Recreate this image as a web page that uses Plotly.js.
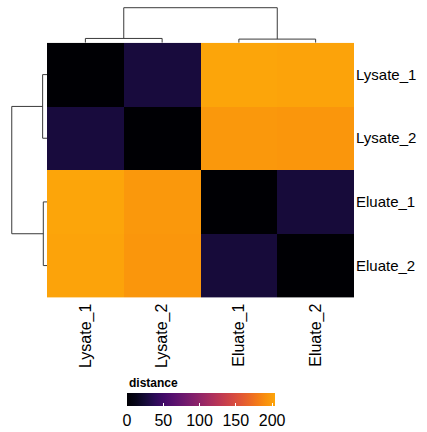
<!DOCTYPE html>
<html>
<head>
<meta charset="utf-8">
<script src="https://cdn.plot.ly/plotly-3.0.1.min.js"></script>
<style>html,body{margin:0;padding:0;background:#fff;}#chart{width:427px;height:432px;}</style>
</head>
<body>
<div id="chart"></div>
<script>
// ---- data ----
const samples = ['Lysate_1', 'Lysate_2', 'Eluate_1', 'Eluate_2'];
const distLysate1 = [0, 27, 204, 203];
const distLysate2 = [27, 0, 196, 195];
const distEluate1 = [204, 196, 0, 26];
const distEluate2 = [203, 195, 26, 0];
// dendrogram merge heights: [Lysate pair, Eluate pair, root]
const mergeHeights = [46, 39, 372];
const colorTicks = [0, 50, 100, 150, 200];
const legendTitle = 'distance';

const z = [distLysate1, distLysate2, distEluate1, distEluate2];
const idx = samples.map((_, i) => i);

// inferno (0 .. 0.8)
const inferno = [
  [0.0, '#000004'], [0.0625, '#07051b'], [0.125, '#160b39'], [0.1875, '#2b0b57'],
  [0.25, '#420a68'], [0.3125, '#57106e'], [0.375, '#6a176e'], [0.4375, '#7f1e6c'],
  [0.5, '#932667'], [0.5625, '#a82e5f'], [0.625, '#bc3754'], [0.6875, '#cd4347'],
  [0.75, '#dd513a'], [0.8125, '#e8632a'], [0.875, '#f37819'], [0.9375, '#f9900d'],
  [1.0, '#fca50a']
];

// build dendrogram segments from merge heights (leaf order 0,1 | 2,3)
function dendro(h) {
  const a = [], b = [];
  a.push(0, 0, 1, 1, null); b.push(0, h[0], h[0], 0, null);
  a.push(2, 2, 3, 3, null); b.push(0, h[1], h[1], 0, null);
  a.push(0.5, 0.5, 2.5, 2.5); b.push(h[0], h[2], h[2], h[1]);
  return {pos: a, hgt: b};
}
const d = dendro(mergeHeights);
const lineStyle = {color: '#3a3a3a', width: 1};

const W = 427, H = 432, B = 60;
const PH = H - B;           // plot-area height
const py = p => (PH - p) / PH;  // pixel row -> paper y
const hmX = [47 / W, 354 / W];
const hmY = [py(299), py(43)];
const topRange = [0, mergeHeights[2] * 1.05];
const fam = 'Liberation Sans, Arial, Helvetica, sans-serif';

const traces = [
  {
    type: 'heatmap', x: idx, y: idx, z: z,
    zmin: 0, zmax: 204, colorscale: inferno,
    xaxis: 'x', yaxis: 'y',
    hoverinfo: 'skip',
    colorbar: {
      orientation: 'h', x: 201 / W, xanchor: 'center',
      y: py(395), yanchor: 'top',
      len: 148, lenmode: 'pixels', thickness: 13, thicknessmode: 'pixels',
      outlinewidth: 0, xpad: 0, ypad: 0,
      tickvals: colorTicks, ticks: 'inside', ticklen: 3, tickcolor: '#ffffff', tickwidth: 1,
      tickfont: {size: 16, color: '#000', family: fam},
      title: {text: ''}
    }
  },
  {
    type: 'scatter', mode: 'lines', x: d.pos, y: d.hgt, xaxis: 'x2', yaxis: 'y2',
    line: lineStyle, hoverinfo: 'skip', showlegend: false
  },
  {
    type: 'scatter', mode: 'lines', x: d.hgt, y: d.pos, xaxis: 'x3', yaxis: 'y3',
    line: lineStyle, hoverinfo: 'skip', showlegend: false
  }
];

const hidden = {showgrid: false, zeroline: false, showticklabels: false, showline: false, ticks: ''};

const layout = {
  width: W, height: H, autosize: false,
  margin: {l: 0, r: 0, t: 0, b: B, pad: 0},
  paper_bgcolor: '#fff', plot_bgcolor: '#fff',
  font: {family: fam, size: 15, color: '#000'}, showlegend: false,
  xaxis: {
    domain: hmX, range: [-0.5, 3.5], tickvals: idx, ticktext: samples,
    tickangle: -90, ticks: '', showgrid: false, zeroline: false, showline: false,
    tickfont: {family: fam, size: 16, color: '#000'}, anchor: 'y', ticklabelstandoff: 2
  },
  yaxis: {
    domain: hmY, range: [3.5, -0.5], tickvals: idx, ticktext: samples,
    side: 'right', ticks: '', showgrid: false, zeroline: false, showline: false,
    tickfont: {family: fam, size: 15, color: '#000'}, anchor: 'x', ticklabelstandoff: 1
  },
  xaxis2: Object.assign({}, hidden, {domain: hmX, range: [-0.5, 3.5], anchor: 'y2'}),
  yaxis2: Object.assign({}, hidden, {domain: [py(43), py(6)], range: topRange, anchor: 'x2'}),
  xaxis3: Object.assign({}, hidden, {domain: [10 / W, 47 / W], range: [topRange[1], 0], anchor: 'y3'}),
  yaxis3: Object.assign({}, hidden, {domain: hmY, range: [3.5, -0.5], anchor: 'x3'}),
  annotations: [{
    text: '<b>' + legendTitle + '</b>', xref: 'paper', yref: 'paper',
    x: 127 / W, y: py(385), xanchor: 'left', yanchor: 'middle', showarrow: false,
    font: {family: fam, size: 12, color: '#000'}
  }]
};

Plotly.newPlot('chart', traces, layout, {staticPlot: true, displayModeBar: false});
</script>
</body>
</html>
